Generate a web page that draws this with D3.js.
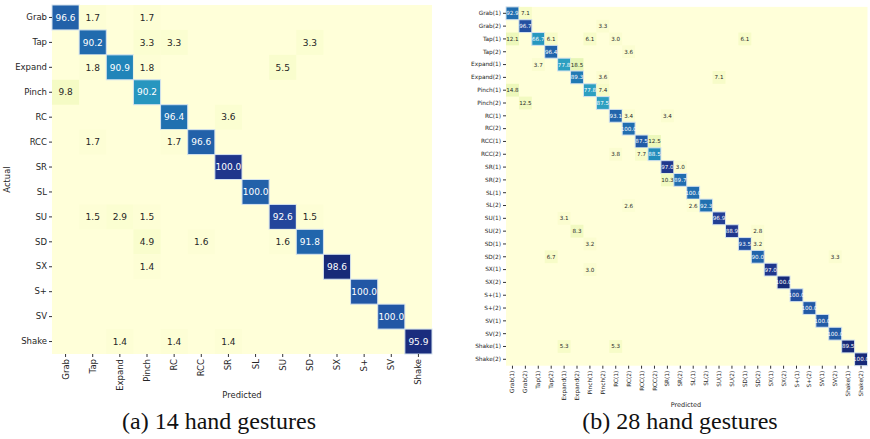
<!DOCTYPE html>
<html>
<head>
<meta charset="utf-8">
<script src="https://cdn.jsdelivr.net/npm/d3@7"></script>
<style>
  body { margin: 0; background: #fff; }
  svg { display: block; }
  text { font-family: "DejaVu Sans", sans-serif; }
</style>
</head>
<body>
<svg id="fig" width="870" height="439"></svg>
<script>
// ---- (a) 14 gestures ----
const labels14 = ["Grab", "Tap", "Expand", "Pinch", "RC", "RCC", "SR", "SL", "SU", "SD", "SX", "S+", "SV", "Shake"];
// estimated samples per actual class (drives cell colour, like the raw counts)
const support14 = [59, 61, 55, 51, 56, 59, 67, 57, 68, 61, 72, 59, 59, 73];
// [actual row, predicted col, percent]
const cells14 = [
  [0, 0, 96.6], [0, 1, 1.7], [0, 3, 1.7],
  [1, 1, 90.2], [1, 3, 3.3], [1, 4, 3.3], [1, 9, 3.3],
  [2, 1, 1.8], [2, 2, 90.9], [2, 3, 1.8], [2, 8, 5.5],
  [3, 0, 9.8], [3, 3, 90.2],
  [4, 4, 96.4], [4, 6, 3.6],
  [5, 1, 1.7], [5, 4, 1.7], [5, 5, 96.6],
  [6, 6, 100.0],
  [7, 7, 100.0],
  [8, 1, 1.5], [8, 2, 2.9], [8, 3, 1.5], [8, 8, 92.6], [8, 9, 1.5],
  [9, 3, 4.9], [9, 5, 1.6], [9, 8, 1.6], [9, 9, 91.8],
  [10, 3, 1.4], [10, 10, 98.6],
  [11, 11, 100.0],
  [12, 12, 100.0],
  [13, 2, 1.4], [13, 4, 1.4], [13, 6, 1.4], [13, 13, 95.9]
];

// ---- (b) 28 gestures ----
const labels28 = ["Grab(1)", "Grab(2)", "Tap(1)", "Tap(2)", "Expand(1)", "Expand(2)", "Pinch(1)", "Pinch(2)",
  "RC(1)", "RC(2)", "RCC(1)", "RCC(2)", "SR(1)", "SR(2)", "SL(1)", "SL(2)", "SU(1)", "SU(2)",
  "SD(1)", "SD(2)", "SX(1)", "SX(2)", "S+(1)", "S+(2)", "SV(1)", "SV(2)", "Shake(1)", "Shake(2)"];
const support28 = [28, 30, 33, 28, 27, 28, 27, 24, 29, 26, 32, 26, 33, 29, 26, 28,
  32, 36, 31, 30, 33, 34, 29, 28, 28, 28, 38, 34];
const cells28 = [
  [0, 0, 92.9], [0, 1, 7.1],
  [1, 1, 96.7], [1, 7, 3.3],
  [2, 0, 12.1], [2, 2, 66.7], [2, 3, 6.1], [2, 6, 6.1], [2, 8, 3.0], [2, 18, 6.1],
  [3, 3, 96.4], [3, 9, 3.6],
  [4, 2, 3.7], [4, 4, 77.8], [4, 5, 18.5],
  [5, 5, 89.3], [5, 7, 3.6], [5, 16, 7.1],
  [6, 0, 14.8], [6, 6, 77.8], [6, 7, 7.4],
  [7, 1, 12.5], [7, 7, 87.5],
  [8, 8, 93.1], [8, 9, 3.4], [8, 12, 3.4],
  [9, 9, 100.0],
  [10, 10, 87.5], [10, 11, 12.5],
  [11, 8, 3.8], [11, 10, 7.7], [11, 11, 88.5],
  [12, 12, 97.0], [12, 13, 3.0],
  [13, 12, 10.3], [13, 13, 89.7],
  [14, 14, 100.0],
  [15, 9, 2.6], [15, 14, 2.6], [15, 15, 92.3],
  [16, 4, 3.1], [16, 16, 96.9],
  [17, 5, 8.3], [17, 17, 88.9], [17, 19, 2.8],
  [18, 6, 3.2], [18, 18, 93.5], [18, 19, 3.2],
  [19, 3, 6.7], [19, 19, 90.0], [19, 25, 3.3],
  [20, 6, 3.0], [20, 20, 97.0],
  [21, 21, 100.0],
  [22, 22, 100.0],
  [23, 23, 100.0],
  [24, 24, 100.0],
  [25, 25, 100.0],
  [26, 4, 5.3], [26, 8, 5.3], [26, 26, 89.5],
  [27, 27, 100.0]
];

const svg = d3.select("#fig");

function drawMatrix(cfg) {
  const n = cfg.labels.length;
  const g = svg.append("g");
  const x = d3.scaleBand().domain(d3.range(n)).range([cfg.left, cfg.right]);
  const y = d3.scaleBand().domain(d3.range(n)).range([cfg.top, cfg.bottom]);

  const counts = cfg.cells.map(c => c[2] * cfg.support[c[0]] / 100);
  const color = d3.scaleSequential(d3.interpolateYlGnBu)
    .domain([0, d3.max(counts) / 0.93]);

  // background = zero cells
  g.append("rect")
    .attr("x", cfg.left).attr("y", cfg.top)
    .attr("width", cfg.right - cfg.left).attr("height", cfg.bottom - cfg.top)
    .attr("fill", color(0));

  g.selectAll(".cell")
    .data(cfg.cells)
    .enter().append("rect")
    .attr("class", "cell")
    .attr("x", d => x(d[1]))
    .attr("y", d => y(d[0]))
    .attr("width", x.bandwidth())
    .attr("height", y.bandwidth())
    .attr("fill", (d, i) => color(counts[i]))
    .attr("stroke", d => d[0] === d[1] ? "#d4e2ee" : "none")
    .attr("stroke-width", 1);

  g.selectAll(".val")
    .data(cfg.cells)
    .enter().append("text")
    .attr("class", "val")
    .attr("x", d => x(d[1]) + x.bandwidth() / 2)
    .attr("y", d => y(d[0]) + y.bandwidth() / 2)
    .attr("dy", "0.36em")
    .attr("text-anchor", "middle")
    .style("font-size", cfg.valSize + "px")
    .attr("fill", (d, i) => counts[i] / color.domain()[1] > 0.5 ? "#ffffff" : "#262626")
    .text(d => d[2].toFixed(1));

  // AXES
  const yAxis = d3.axisLeft(y).tickSize(3).tickPadding(2).tickFormat(i => cfg.labels[i]);
  const xAxis = d3.axisBottom(x).tickSize(3).tickPadding(2).tickFormat(i => cfg.labels[i]);

  const ya = g.append("g")
    .attr("transform", "translate(" + cfg.left + ",0)")
    .call(yAxis);
  const xa = g.append("g")
    .attr("transform", "translate(0," + cfg.bottom + ")")
    .call(xAxis);

  [ya, xa].forEach(a => {
    a.select(".domain").remove();
    a.selectAll("line").attr("stroke", "#333");
    a.selectAll("text")
      .attr("fill", "#262626")
      .style("font-size", cfg.tickSize + "px")
      .style("font-family", '"DejaVu Sans", sans-serif');
  });

  xa.selectAll("text")
    .attr("transform", "rotate(-90)")
    .attr("text-anchor", "end")
    .attr("x", -5)
    .attr("y", 0)
    .attr("dy", "0.35em");

  g.append("text")
    .attr("x", cfg.xLabelX)
    .attr("y", cfg.xLabelY)
    .attr("text-anchor", "middle")
    .attr("fill", "#262626")
    .style("font-size", cfg.axisLabelSize + "px")
    .text("Predicted");

  if (cfg.yLabel) {
    g.append("text")
      .attr("transform", "translate(" + cfg.yLabelX + "," + (cfg.top + cfg.bottom) / 2 + ") rotate(-90)")
      .attr("text-anchor", "middle")
      .attr("fill", "#262626")
      .style("font-size", cfg.axisLabelSize + "px")
      .text("Actual");
  }

  svg.append("text")
    .attr("x", cfg.captionX)
    .attr("y", 429)
    .attr("text-anchor", "middle")
    .attr("fill", "#111")
    .style("font-family", '"Liberation Serif", "Times New Roman", serif')
    .style("font-size", "24px")
    .text(cfg.caption);
}

drawMatrix({
  labels: labels14, cells: cells14, support: support14,
  left: 52, right: 432, top: 5, bottom: 354,
  valSize: 9, tickSize: 8.5, axisLabelSize: 8.4,
  xLabelX: 242, xLabelY: 398,
  yLabel: true, yLabelX: 10,
  caption: "(a) 14 hand gestures", captionX: 219
});

drawMatrix({
  labels: labels28, cells: cells28, support: support28,
  left: 506, right: 867.5, top: 6.9, bottom: 365.7,
  valSize: 5.6, tickSize: 5.8, axisLabelSize: 6.5,
  xLabelX: 686, xLabelY: 407,
  yLabel: false,
  caption: "(b) 28 hand gestures", captionX: 680
});
</script>
</body>
</html>
